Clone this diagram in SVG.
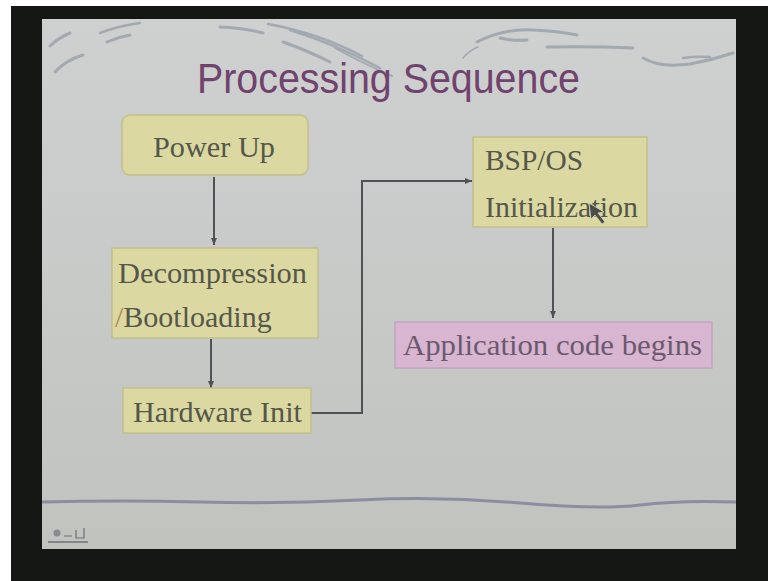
<svg xmlns="http://www.w3.org/2000/svg" width="768" height="581" viewBox="0 0 768 581">
  <defs>
    <linearGradient id="slideBg" x1="0" y1="0" x2="0" y2="1">
      <stop offset="0" stop-color="#cfd1d0"/>
      <stop offset="0.35" stop-color="#cacccb"/>
      <stop offset="1" stop-color="#c1c3bf"/>
    </linearGradient>
    <marker id="arrow" markerWidth="8" markerHeight="8" refX="7" refY="4" orient="auto" markerUnits="userSpaceOnUse">
      <path d="M0,1 L7,4 L0,7 Z" fill="#4e5256"/>
    </marker>
    <style>
      .box { fill: #dbd9a1; stroke: #c2bf8c; stroke-width: 1.5; }
      .pink { fill: #d8b5d0; stroke: #c4a4bf; stroke-width: 1.5; }
      .lbl { font-family: "Liberation Serif", "Times New Roman", serif; font-size: 30px; fill: #55574a; }
      .lblp { font-family: "Liberation Serif", "Times New Roman", serif; font-size: 30px; fill: #6b5a6e; }
      .title { font-family: "Liberation Sans", Arial, sans-serif; font-size: 42px; fill: #70436e; }
      .conn { fill: none; stroke: #4e5256; stroke-width: 2; }
      .swirl { fill: none; stroke: #98a0aa; stroke-linecap: round; }
    </style>
  </defs>

  <!-- frame around the slide -->
  <rect x="0" y="0" width="768" height="581" fill="#151715"/>
  <rect x="0" y="0" width="11" height="581" fill="#ffffff"/>
  <rect x="0" y="0" width="768" height="6" fill="#ffffff"/>

  <!-- slide surface -->
  <rect x="42" y="19" width="694" height="530" fill="url(#slideBg)"/>

  <!-- decorative strokes along the top -->
  <g id="decor" opacity="0.8">
    <path class="swirl" stroke-width="3" d="M50,46 Q58,38 70,33"/>
    <path class="swirl" stroke-width="3" d="M55,72 Q66,60 83,55"/>
    <path class="swirl" stroke-width="2.5" d="M100,33 Q118,26 140,23"/>
    <path class="swirl" stroke-width="3" d="M107,42 Q118,37 130,35"/>
    <path class="swirl" stroke-width="3" d="M220,27 Q244,28 263,33"/>
    <path class="swirl" stroke-width="2.5" d="M268,24 Q318,33 362,56"/>
    <path class="swirl" stroke-width="2.5" d="M290,30 Q335,44 380,68"/>
    <path class="swirl" stroke-width="3" d="M283,42 Q306,50 330,62"/>
    <path class="swirl" stroke-width="2" d="M335,48 Q360,62 392,76"/>
    <path class="swirl" stroke-width="3" d="M477,42 Q505,28 533,30 Q558,31 577,35"/>
    <path class="swirl" stroke-width="3" d="M500,38 Q514,41 527,40"/>
    <path class="swirl" stroke-width="3" d="M547,47 Q590,46 633,48"/>
    <path class="swirl" stroke-width="3" d="M643,58 Q660,68 690,64 Q712,60 733,53"/>
    <path class="swirl" stroke-width="2.5" d="M683,58 Q696,56 710,57"/>
    <path class="swirl" stroke-width="1.5" d="M463,58 Q470,50 478,47"/>
  </g>

  <!-- footer rule and slide icon -->
  <path d="M42,502 Q120,500 200,502 T360,500 T520,503 T640,505 T736,502" fill="none" stroke="#8b8ea0" stroke-width="3"/>
  <g id="footer-icon" fill="none" stroke="#6e7074" stroke-width="1.2">
    <circle cx="57" cy="533" r="3.5" fill="#8a8c90" stroke="none"/>
    <path d="M64,536 L72,536 M76,530 L76,538 L84,538 L84,528"/>
    <path d="M48,542 L88,542" stroke-width="1.5"/>
  </g>

  <!-- title -->
  <text class="title" x="197" y="93" textLength="383" lengthAdjust="spacingAndGlyphs">Processing Sequence</text>

  <!-- connectors -->
  <g id="connectors">
    <line class="conn" x1="214" y1="177" x2="214" y2="245" marker-end="url(#arrow)"/>
    <line class="conn" x1="211" y1="339" x2="211" y2="388" marker-end="url(#arrow)"/>
    <polyline class="conn" points="311,413 362,413 362,181 472,181" marker-end="url(#arrow)"/>
    <line class="conn" x1="553" y1="228" x2="553" y2="318" marker-end="url(#arrow)"/>
  </g>

  <!-- nodes -->
  <g id="power-up">
    <rect class="box" x="122" y="115" width="186" height="60" rx="8"/>
    <text class="lbl" x="153" y="157" textLength="122" lengthAdjust="spacingAndGlyphs">Power Up</text>
  </g>

  <g id="decompression">
    <rect class="box" x="112" y="248" width="206" height="90"/>
    <text class="lbl" x="118" y="283" textLength="189" lengthAdjust="spacingAndGlyphs">Decompression</text>
    <text class="lbl" x="115" y="327"><tspan fill="#b0885a">/</tspan>Bootloading</text>
  </g>

  <g id="hardware-init">
    <rect class="box" x="123" y="388" width="188" height="45"/>
    <text class="lbl" x="133" y="422" textLength="169" lengthAdjust="spacingAndGlyphs">Hardware Init</text>
  </g>

  <g id="bsp-os">
    <rect class="box" x="473" y="137" width="174" height="90"/>
    <text class="lbl" x="485" y="170" textLength="98" lengthAdjust="spacingAndGlyphs">BSP/OS</text>
    <text class="lbl" x="485" y="217" textLength="153" lengthAdjust="spacingAndGlyphs">Initialization</text>
    <!-- pointer -->
    <path d="M589,203 L604,212 L598,213 L605,222 L602,224 L595,215 L591,219 Z" fill="#4a4c48" stroke="#d8d8c0" stroke-width="0.8"/>
  </g>

  <g id="application">
    <rect class="pink" x="395" y="322" width="317" height="46"/>
    <text class="lblp" x="403" y="355" textLength="299" lengthAdjust="spacingAndGlyphs">Application code begins</text>
  </g>
</svg>
